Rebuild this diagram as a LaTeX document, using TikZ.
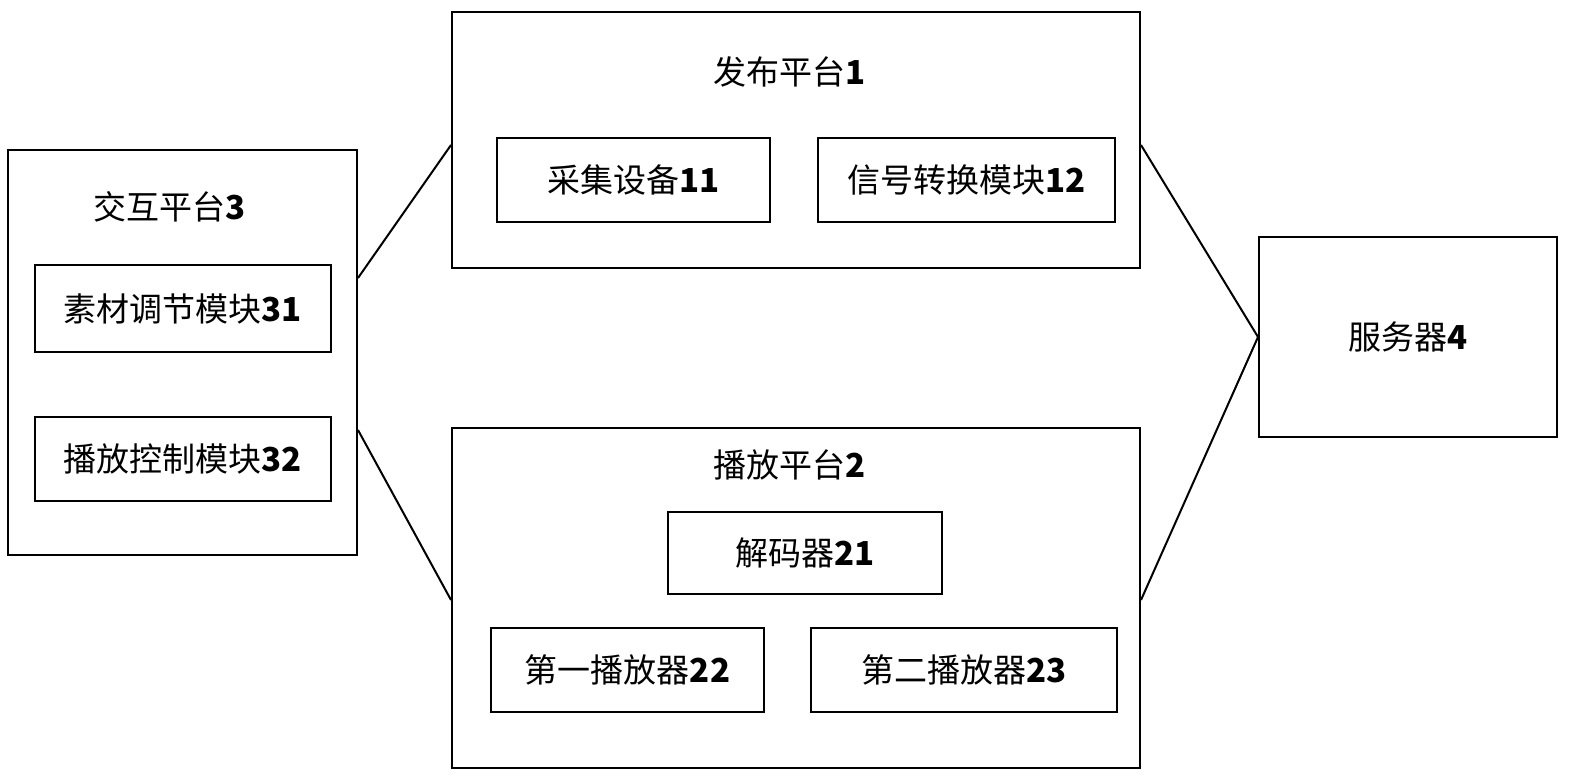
\documentclass[tikz,border=0pt]{standalone}
\usepackage{fontspec}
\newfontfamily\cjk{Noto Sans CJK SC}
\begin{document}
\begin{tikzpicture}[x=1pt,y=-1pt,
  bx/.style={draw,line width=2pt,inner sep=0pt},
  lb/.style={font=\cjk\fontsize{33}{36}\selectfont,inner sep=0pt},
  ln/.style={line width=2pt}]
\useasboundingbox (0,0) rectangle (1572,784);
\newcommand\bx[5]{\node[bx,minimum width=#3-#1,minimum height=#4-#2] (#5) at ({(#1+#3)/2},{(#2+#4)/2}) {};}
\bx{452}{12}{1140}{268}{p1}
\bx{497}{138}{770}{222}{b11}
\bx{818}{138}{1115}{222}{b12}
\bx{8}{150}{357}{555}{p3}
\bx{35}{265}{331}{352}{b31}
\bx{35}{417}{331}{501}{b32}
\bx{452}{428}{1140}{768}{p2}
\bx{668}{512}{942}{594}{b21}
\bx{491}{628}{764}{712}{b22}
\bx{811}{628}{1117}{712}{b23}
\bx{1259}{237}{1557}{437}{s4}
\node[lb] (t1) at (790,72) {发布平台\textbf{1}};
\node[lb] at (b11) {采集设备\textbf{11}};
\node[lb] at (b12) {信号转换模块\textbf{12}};
\node[lb] (t3) at (170,207) {交互平台\textbf{3}};
\node[lb] at (b31) {素材调节模块\textbf{31}};
\node[lb] at (b32) {播放控制模块\textbf{32}};
\node[lb] (t2) at (790,465) {播放平台\textbf{2}};
\node[lb] at (b21) {解码器\textbf{21}};
\node[lb] at (b22) {第一播放器\textbf{22}};
\node[lb] at (b23) {第二播放器\textbf{23}};
\node[lb] at (s4) {服务器\textbf{4}};
\coordinate (c1) at (p3.east |- 0,278);
\coordinate (c2) at (p1.west |- 0,145);
\coordinate (c3) at (p3.east |- 0,430);
\coordinate (c4) at (p2.west |- 0,600);
\coordinate (c5) at (p1.east |- 0,145);
\coordinate (c6) at (p2.east |- 0,600);
\draw[ln] (c1) -- (c2);
\draw[ln] (c3) -- (c4);
\draw[ln] (c5) -- (s4.west);
\draw[ln] (c6) -- (s4.west);
\end{tikzpicture}
\end{document}
